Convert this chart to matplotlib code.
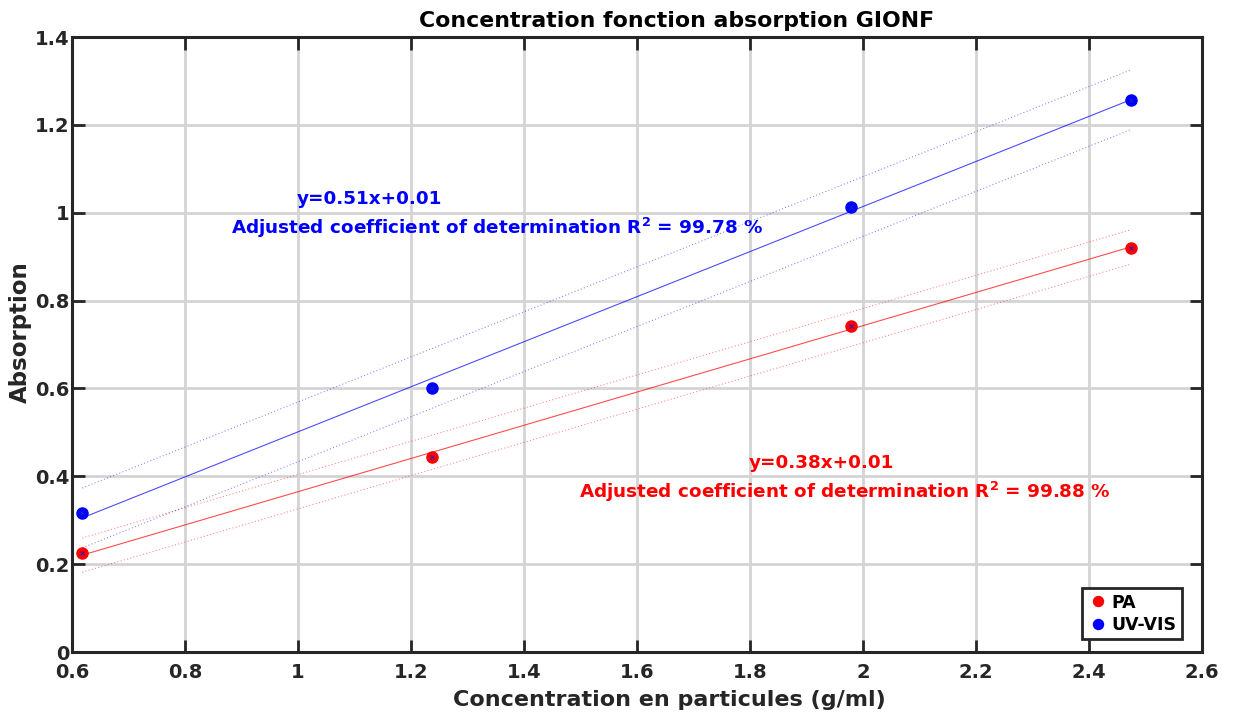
import numpy as np
import matplotlib
matplotlib.use("Agg")
import matplotlib.pyplot as plt

# Data
conc = [0.618, 1.237, 1.979, 2.474]
pa_abs = [0.2255, 0.444, 0.743, 0.920]
uv_abs = [0.317, 0.601, 1.014, 1.257]
pa_band = 0.039
uv_band = 0.068
series_labels = ["PA", "UV-VIS"]
pa_eq = "y=0.38x+0.01"
pa_r2 = "Adjusted coefficient of determination R$^{\\mathbf{2}}$ = 99.88 %"
uv_eq = "y=0.51x+0.01"
uv_r2 = "Adjusted coefficient of determination R$^{\\mathbf{2}}$ = 99.78 %"
xticks = [0.6, 0.8, 1.0, 1.2, 1.4, 1.6, 1.8, 2.0, 2.2, 2.4, 2.6]
xticklabels = ["0.6", "0.8", "1", "1.2", "1.4", "1.6", "1.8", "2", "2.2", "2.4", "2.6"]
yticks = [0, 0.2, 0.4, 0.6, 0.8, 1.0, 1.2, 1.4]
yticklabels = ["0", "0.2", "0.4", "0.6", "0.8", "1", "1.2", "1.4"]

plt.rcParams['font.family'] = ['DejaVu Sans']
plt.rcParams['font.weight'] = 'bold'
plt.rcParams['mathtext.default'] = 'bf'

fig = plt.figure(figsize=(12.33, 7.15), dpi=100)
ax = fig.add_axes([0.0584, 0.0881, 0.9166, 0.8601])

x = np.array(conc)
xs = np.array([x.min(), x.max()])
dark = '#262626'

handles = []
for yv, band, col, lab in [(pa_abs, pa_band, 'red', series_labels[0]),
                            (uv_abs, uv_band, 'blue', series_labels[1])]:
    y = np.array(yv)
    p = np.polyfit(x, y, 1)
    yf = np.polyval(p, xs)
    ax.plot(xs, yf, color=col, lw=0.8, alpha=0.7, zorder=3)
    ax.plot(xs, yf + band, color=col, lw=0.8, ls=(0, (1, 2)), alpha=0.45, zorder=3)
    ax.plot(xs, yf - band, color=col, lw=0.8, ls=(0, (1, 2)), alpha=0.45, zorder=3)
    h, = ax.plot(x, y, 'o', color=col, ms=8, label=lab, zorder=4, clip_on=False)
    ax.plot(x, y, 'x', color='#2020c0', ms=3.5, mew=0.7, zorder=5, clip_on=False)
    handles.append(h)

fs_ann = 13.2
ax.text(1.127, 1.032, uv_eq, color='blue', ha='center', va='center', fontsize=fs_ann, fontweight='bold')
ax.text(1.352, 0.966, uv_r2, color='blue', ha='center', va='center', fontsize=fs_ann, fontweight='bold')
ax.text(1.927, 0.430, pa_eq, color='red', ha='center', va='center', fontsize=fs_ann, fontweight='bold')
ax.text(1.968, 0.364, pa_r2, color='red', ha='center', va='center', fontsize=fs_ann, fontweight='bold')

ax.set_xlim(0.6, 2.6)
ax.set_ylim(0, 1.4)
ax.set_xticks(xticks)
ax.set_xticklabels(xticklabels)
ax.set_yticks(yticks)
ax.set_yticklabels(yticklabels)
ax.tick_params(direction='in', length=9, width=2, colors=dark, labelsize=14,
               top=True, right=True)
ax.tick_params(axis='x', pad=8)
ax.tick_params(axis='y', pad=1.5)
for lbl in ax.get_xticklabels() + ax.get_yticklabels():
    lbl.set_fontweight('bold')
for s in ax.spines.values():
    s.set_linewidth(2.2)
    s.set_color(dark)
ax.grid(True, color='#d4d4d4', lw=2)
ax.set_axisbelow(True)

ax.set_xlabel("Concentration en particules (g/ml)", fontsize=16, fontweight='bold', color=dark)
ax.xaxis.label.set_va('center')
ax.xaxis.set_label_coords(0.529, -0.078)
ax.set_ylabel("Absorption", fontsize=16.5, fontweight='bold', color=dark)
ax.yaxis.label.set_va('center')
ax.yaxis.set_label_coords(-0.046, 0.52)
ax.set_title("Concentration fonction absorption GIONF", fontsize=15.8, fontweight='bold',
             color='black', x=0.5345, pad=7)

leg = ax.legend(handles=handles, loc='lower right', bbox_to_anchor=(0.982, 0.021),
                borderaxespad=0,
                prop={'weight': 'bold', 'size': 12.5}, handletextpad=0.2, handlelength=1.2,
                borderpad=0.3, labelspacing=0.25, fancybox=False, framealpha=1,
                edgecolor=dark, markerscale=0.9)
leg.get_frame().set_linewidth(2)

fig.savefig("out.png", dpi=100)
